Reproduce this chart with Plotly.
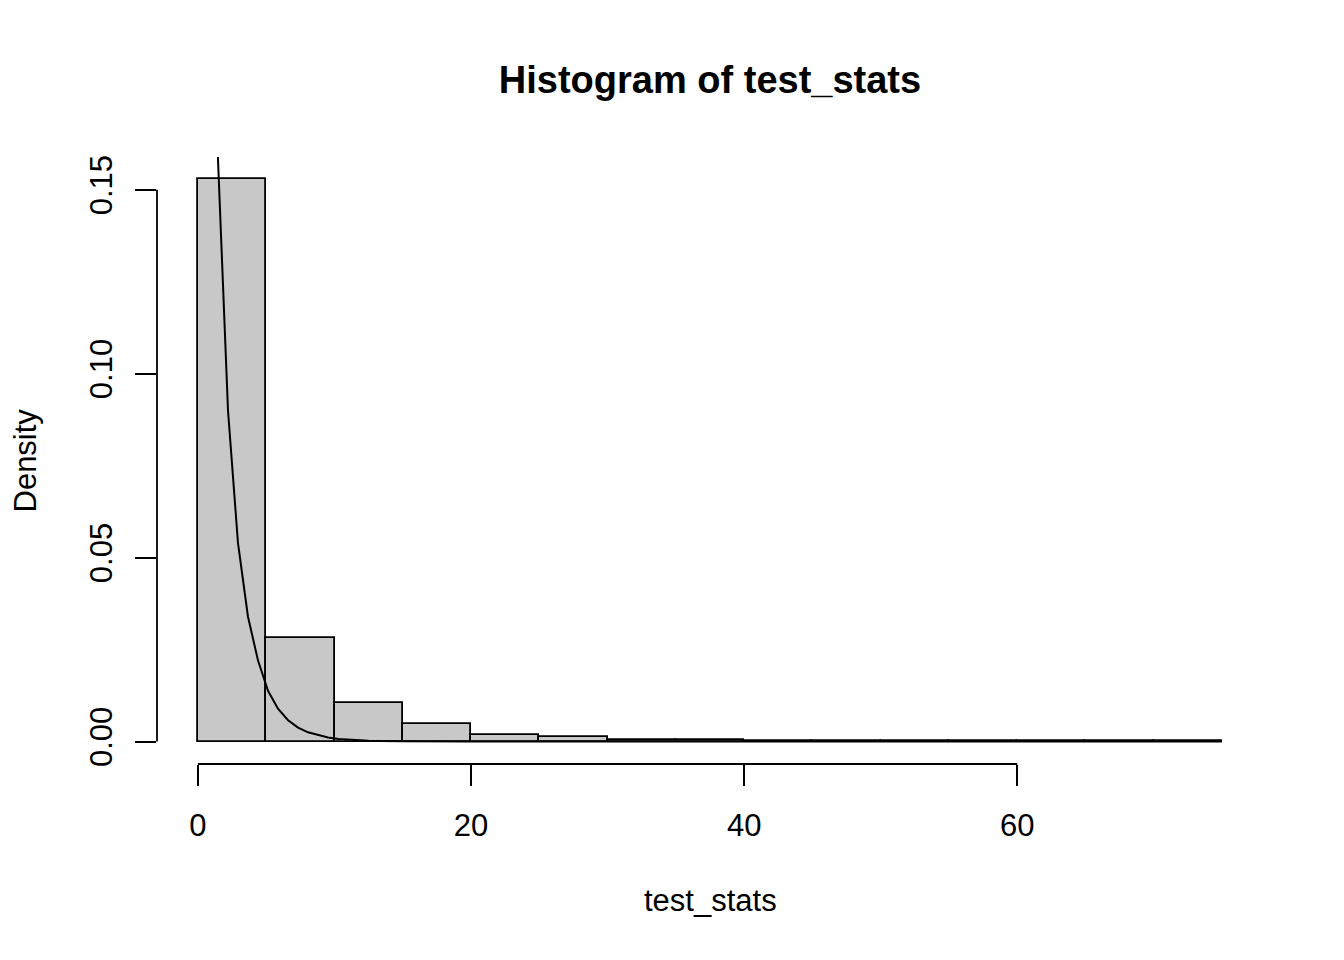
import plotly.graph_objects as go

# histogram of test_stats (density scale), bins of width 5
breaks = [0, 5, 10, 15, 20, 25, 30, 35, 40, 45, 50, 55, 60, 65, 70, 75]
density = [0.1528, 0.0282, 0.0104, 0.0049, 0.0017, 0.0012, 0.0005, 0.0003,
           0.0002, 0.0001, 0.0002, 0.0001, 0.0001, 0.0001, 0.00005]

# overlaid density curve
curve_x = [0.73, 1.47, 2.20, 2.93, 3.66, 4.40, 5.13, 5.86, 6.60, 7.33, 8.06,
           8.80, 9.53, 10.3, 11.0, 11.7, 12.5, 13.2, 14.0, 15.0, 20.0, 75.0]
curve_y = [0.32, 0.158, 0.090, 0.054, 0.034, 0.022, 0.0138, 0.0089, 0.0058,
           0.0038, 0.0025, 0.0017, 0.0011, 0.0007, 0.0005, 0.0003, 0.0002,
           0.00015, 0.0001, 0.00005, 0.0, 0.0]

x_ticks = [0, 20, 40, 60]
y_ticks = [0.00, 0.05, 0.10, 0.15]
y_tick_text = ["0.00", "0.05", "0.10", "0.15"]

centers = [(a + b) / 2 for a, b in zip(breaks[:-1], breaks[1:])]
widths = [b - a for a, b in zip(breaks[:-1], breaks[1:])]

# R-style extended ranges (4% padding)
x_lo, x_hi = breaks[0], breaks[-1]
x_pad = (x_hi - x_lo) * 0.04
y_hi = max(density)
y_pad = y_hi * 0.04

font = "Liberation Sans, Arial, Helvetica, sans-serif"
fsize = 31
lw = 1.8

fig = go.Figure()

fig.add_trace(go.Bar(
    x=centers, y=density, width=widths,
    marker=dict(color="#C8C8C8", line=dict(color="black", width=lw)),
    showlegend=False, hoverinfo="x+y"))

fig.add_trace(go.Scatter(
    x=curve_x, y=curve_y, mode="lines",
    line=dict(color="black", width=2),
    showlegend=False))

# axis lines only spanning the tick range, like base R
fig.add_shape(type="line", xref="x", yref="paper", x0=x_ticks[0], x1=x_ticks[-1],
              y0=0, y1=0, line=dict(color="black", width=lw))
fig.add_shape(type="line", xref="paper", yref="y", x0=0, x1=0,
              y0=y_ticks[0], y1=y_ticks[-1], line=dict(color="black", width=lw))

fig.update_xaxes(
    range=[x_lo - x_pad, x_hi + x_pad], tickvals=x_ticks,
    ticks="outside", ticklen=21, tickwidth=lw, tickcolor="black",
    showgrid=False, zeroline=False, showline=False,
    tickfont=dict(family=font, size=fsize, color="black"),
    ticklabelstandoff=13)

fig.update_yaxes(
    range=[-y_pad, y_hi + y_pad], tickvals=y_ticks, ticktext=y_tick_text,
    ticks="outside", ticklen=21, tickwidth=lw, tickcolor="black",
    tickangle=-90,
    showgrid=False, zeroline=False, showline=False,
    tickfont=dict(family=font, size=fsize, color="black"),
    ticklabelstandoff=11)

fig.update_layout(
    width=1344, height=960, autosize=False,
    margin=dict(l=149, r=89, t=149, b=204),
    plot_bgcolor="white", paper_bgcolor="white",
    bargap=0,
    title=dict(text="<b>Histogram of test_stats</b>", x=0.5, xref="paper",
               y=1 - 80 / 960 + 8 / 960, yanchor="middle",
               font=dict(family=font, size=38, color="black")),
    annotations=[
        dict(text="test_stats", xref="paper", yref="paper", x=0.5, y=0,
             yshift=-136, showarrow=False, yanchor="middle",
             font=dict(family=font, size=fsize, color="black")),
        dict(text="Density", xref="paper", yref="paper", x=0, y=0.5,
             xshift=-132, showarrow=False, textangle=-90, xanchor="center",
             font=dict(family=font, size=fsize, color="black")),
    ],
)

fig.write_html("out.html")
